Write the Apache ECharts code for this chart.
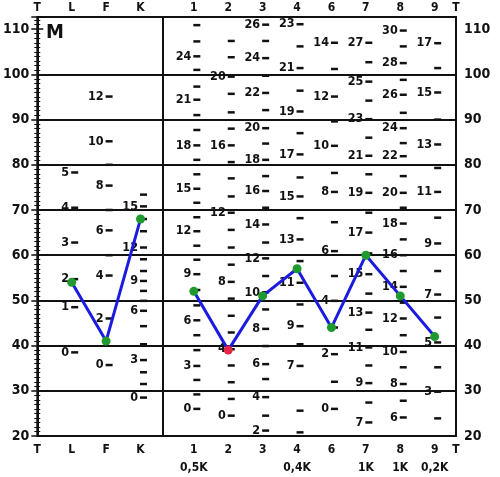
<!DOCTYPE html>
<html>
<head>
<meta charset="utf-8">
<script src="https://cdn.jsdelivr.net/npm/echarts@6/dist/echarts.min.js"></script>
<style>
  html, body { margin: 0; padding: 0; background: #fff; }
  #chart { width: 500px; height: 477px; }
</style>
</head>
<body>
<div id="chart"></div>
<script>
// scales
const validityScales = ['L', 'F', 'K']
const clinicalScales = ['1', '2', '3', '4', '6', '7', '8', '9']
const kCorrection = ['0,5K', '', '', '0,4K', '', '1K', '1K', '0,2K']

// profile T-scores
const validityT = [54, 41, 68]
const clinicalT = [52, 39, 51, 57, 44, 60, 51, 42]

// raw score labels per column: [raw, T]
const rawL = [[0, 38.5], [1, 48.5], [2, 54.7], [3, 62.8], [4, 70.5], [5, 78.3]]
const rawF = [[0, 35.7], [2, 46], [4, 55.5], [6, 65.5], [8, 75.4], [10, 85.2], [12, 95.1]]
const rawK = [[0, 28.5], [3, 36.8], [6, 47.7], [9, 54.3], [12, 61.7], [15, 70.8]]
const raw1 = [[0, 26], [3, 35.5], [6, 45.6], [9, 55.8], [12, 65.3], [15, 74.7], [18, 84.3], [21, 94.4], [24, 104]]
const raw2 = [[0, 24.5], [4, 39.2], [8, 54.1], [12, 69.4], [16, 84.3], [20, 99.5]]
const raw3 = [[2, 21.2], [4, 28.6], [6, 35.9], [8, 43.7], [10, 51.8], [12, 59.3], [14, 66.8], [16, 74.2], [18, 81.1], [20, 88.1], [22, 95.9], [24, 103.6], [26, 111]]
const raw4 = [[7, 35.5], [9, 44.3], [11, 53.9], [13, 63.5], [15, 73], [17, 82.3], [19, 91.8], [21, 101.4], [23, 111.1]]
const raw6 = [[0, 26], [2, 38.1], [4, 49.9], [6, 60.9], [8, 74], [10, 84.2], [12, 95.1], [14, 107]]
const raw7 = [[7, 23], [9, 31.7], [11, 39.6], [13, 47.3], [15, 55.8], [17, 65], [19, 73.8], [21, 82], [23, 90.1], [25, 98.4], [27, 107]]
const raw8 = [[6, 24.1], [8, 31.5], [10, 38.6], [12, 46], [14, 53], [16, 60], [18, 67], [20, 73.8], [22, 81.9], [24, 88.1], [26, 95.5], [28, 102.5], [30, 109.7]]
const raw9 = [[3, 29.8], [5, 40.7], [7, 51.3], [9, 62.6], [11, 74], [13, 84.5], [15, 96], [17, 106.9]]

// unlabeled raw score dashes per column (T)
const dashL = []
const dashF = [60, 70, 80]
const dashK = [31.5, 34.1, 40.3, 44.3, 49.9, 52.1, 56.5, 59.1, 65.3, 68, 73.4]
const dash1 = [29.2, 32.4, 39, 42.3, 48.9, 52.3, 59, 62.1, 68.4, 71.6, 77.9, 81.1, 87.7, 91, 97.3, 101, 107.3, 110.9]
const dash2 = [28.2, 31.9, 35.6, 42.9, 46.6, 50.4, 57.9, 61.7, 65.6, 73, 77, 80.6, 88, 91.6, 95.7, 103.8, 107.4]
const dash3 = [24.5, 32.6, 39.9, 48, 55.4, 62.8, 70.5, 77.5, 84.7, 92.1, 99.7, 107.4]
const dash4 = [20.8, 25.6, 40.3, 49.1, 58.7, 68.2, 77.2, 87, 96.4, 106.2]
const dash6 = [32, 44, 55.4, 67.3, 78.2, 89.6, 101.2]
const dash7 = [27.4, 35.6, 43.5, 51.5, 60.4, 69.4, 77.9, 86, 94.2, 102.7]
const dash8 = [27.8, 35.2, 42.3, 49.5, 56.5, 63.5, 70.5, 77.5, 84.8, 91.5, 98.8, 106.2]
const dash9 = [23.9, 35.2, 46.2, 56.5, 68.3, 79.3, 90, 101.4]

// layout: column positions on the x axis
const X_MAX = 12.17
const DIVIDER = 3.65
const xPos = {}
validityScales.forEach((s, i) => { xPos[s] = i + 1 })
clinicalScales.forEach((s, i) => { xPos[s] = 4.55 + i })

const columns = [
  ['L', rawL, dashL], ['F', rawF, dashF], ['K', rawK, dashK],
  ['1', raw1, dash1], ['2', raw2, dash2], ['3', raw3, dash3], ['4', raw4, dash4],
  ['6', raw6, dash6], ['7', raw7, dash7], ['8', raw8, dash8], ['9', raw9, dash9]
]

const labelData = []
const dashData = []
columns.forEach(([name, raws, dashes]) => {
  const x = xPos[name]
  raws.forEach(([r, t]) => labelData.push({ value: [x, t], raw: r }))
  dashes.forEach(t => dashData.push([x, t]))
})

const FONT = 'DejaVu Sans Condensed, DejaVu Sans, sans-serif'
const INK = '#111'
const GREEN = '#1f9a2e'
const RED = '#e52546'
const BLUE = '#1c1ce0'

const pointColor = t => (t < 40 ? RED : GREEN)

const tickValues = [0].concat(validityScales.map(s => xPos[s]), clinicalScales.map(s => xPos[s]), [X_MAX])
const nameAt = (v, withK) => {
  if (Math.abs(v) < 0.01 || Math.abs(v - X_MAX) < 0.01) return 'T'
  const vi = validityScales.find(s => Math.abs(xPos[s] - v) < 0.01)
  if (vi) return vi
  const ci = clinicalScales.findIndex(s => Math.abs(xPos[s] - v) < 0.01)
  if (ci < 0) return ''
  const k = kCorrection[ci]
  return withK && k ? clinicalScales[ci] + '\n' + k : clinicalScales[ci]
}

const xBase = {
  type: 'value',
  min: 0,
  max: X_MAX,
  axisLine: { show: false },
  axisTick: { show: false },
  splitLine: { show: false }
}

const yBase = {
  type: 'value',
  min: 20,
  max: 112.7,
  interval: 10,
  axisLine: { show: true, lineStyle: { color: INK, width: 2 } },
  axisTick: { show: true, length: 6, lineStyle: { color: INK, width: 1.5 } },
  minorTick: { show: true, splitNumber: 10, length: 3, lineStyle: { color: INK } },
  splitLine: { show: false },
  axisLabel: {
    margin: 8,
    color: INK,
    fontFamily: FONT,
    fontWeight: 'bold',
    fontSize: 14,
    formatter: v => (v % 10 === 0 ? String(v) : '')
  }
}

const markStyle = {
  type: 'scatter',
  silent: true,
  symbol: 'rect',
  symbolSize: [7, 2.5],
  symbolOffset: [3, 0],
  itemStyle: { color: INK, opacity: 1 },
  emphasis: { disabled: true }
}

const chart = echarts.init(document.getElementById('chart'))
chart.setOption({
  animation: false,
  backgroundColor: '#fff',
  grid: {
    left: 36, right: 44, top: 17, bottom: 40,
    show: true, borderColor: INK, borderWidth: 2, backgroundColor: 'transparent'
  },
  graphic: [{
    type: 'text', left: 46, top: 23,
    style: { text: 'M', font: 'bold 20px ' + FONT, fill: INK }
  }],
  xAxis: [
    Object.assign({}, xBase, {
      position: 'bottom',
      axisLabel: {
        customValues: tickValues,
        margin: 5,
        color: INK,
        fontFamily: FONT,
        fontWeight: 'bold',
        fontSize: 12,
        lineHeight: 18,
        formatter: v => nameAt(v, true)
      }
    }),
    Object.assign({}, xBase, {
      position: 'top',
      axisLabel: {
        customValues: tickValues,
        margin: 3,
        color: INK,
        fontFamily: FONT,
        fontWeight: 'bold',
        fontSize: 12,
        formatter: v => nameAt(v, false)
      }
    })
  ],
  yAxis: [
    Object.assign({}, yBase, { position: 'left' }),
    Object.assign({}, yBase, { position: 'right' })
  ],
  series: [
    Object.assign({}, markStyle, {
      name: 'dashes',
      data: dashData,
      z: 2,
      markLine: {
        silent: true,
        symbol: 'none',
        label: { show: false },
        lineStyle: { color: INK, width: 2, type: 'solid', opacity: 1 },
        data: [30, 40, 50, 60, 70, 80, 90, 100].map(v => ({ yAxis: v })).concat([{ xAxis: DIVIDER }])
      }
    }),
    Object.assign({}, markStyle, {
      name: 'raw',
      data: labelData,
      z: 3,
      label: {
        show: true,
        position: 'left',
        distance: 2,
        offset: [0, 0],
        color: INK,
        opacity: 1,
        fontFamily: FONT,
        fontWeight: 'bold',
        fontSize: 12.5,
        formatter: p => String(p.data.raw)
      }
    }),
    {
      name: 'validity',
      type: 'line',
      z: 5,
      symbol: 'circle',
      symbolSize: 9,
      lineStyle: { color: BLUE, width: 3 },
      data: validityScales.map((s, i) => ({
        value: [xPos[s], validityT[i]],
        itemStyle: { color: pointColor(validityT[i]), borderWidth: 0 }
      }))
    },
    {
      name: 'clinical',
      type: 'line',
      z: 5,
      symbol: 'circle',
      symbolSize: 9,
      lineStyle: { color: BLUE, width: 3 },
      data: clinicalScales.map((s, i) => ({
        value: [xPos[s], clinicalT[i]],
        itemStyle: { color: pointColor(clinicalT[i]), borderWidth: 0 }
      }))
    }
  ]
})
</script>
</body>
</html>
